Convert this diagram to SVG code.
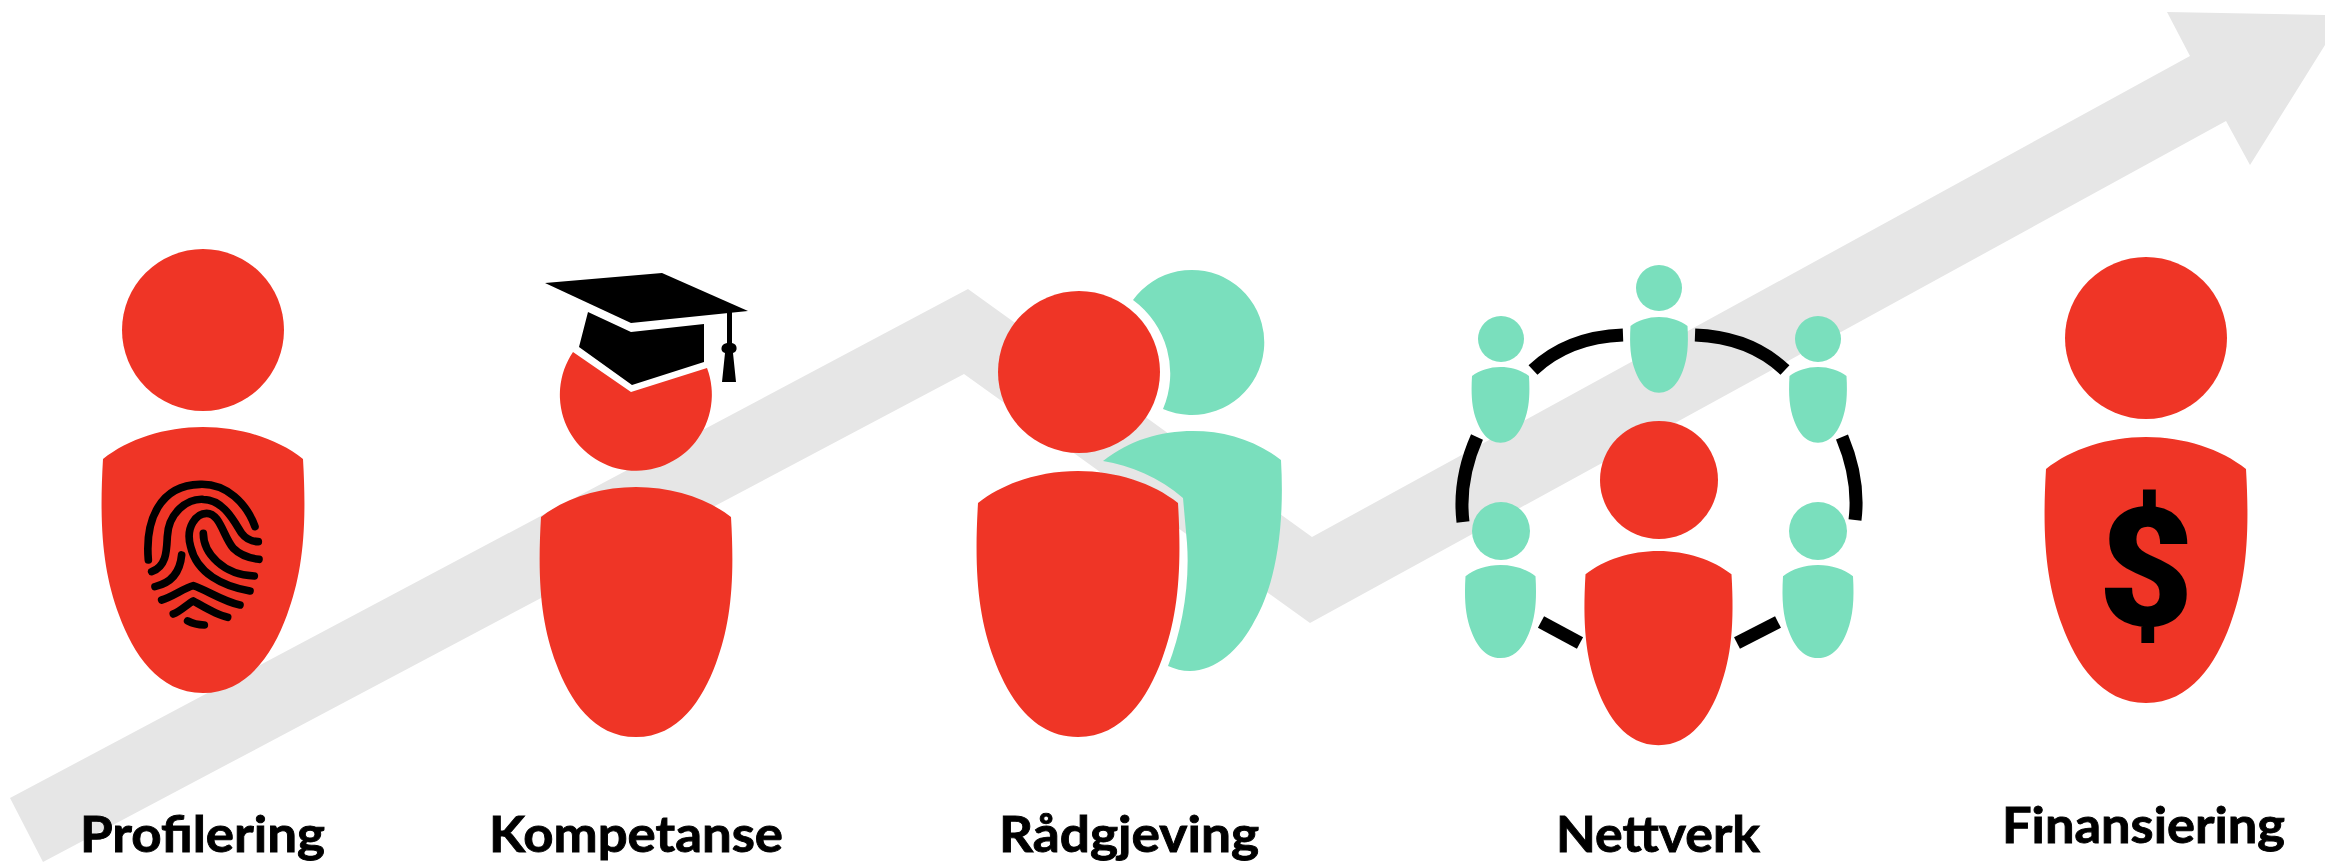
<svg xmlns="http://www.w3.org/2000/svg" width="2325" height="864" viewBox="0 0 2325 864">
<style>
.r{fill:#EF3526}.t{fill:#7ADFBD}.k{fill:#000}
.ring{fill:none;stroke:#000;stroke-width:13}
.fp{fill:none;stroke:#000;stroke-width:23;stroke-linecap:round;stroke-linejoin:round}
.l{font-family:Lato,"Liberation Sans",Arial,sans-serif;font-weight:700;font-size:50px;fill:#000;stroke:#000;stroke-width:.9}
</style>
<defs>
<path id="body" d="M-100 32C-75 12 -38 0 0 0C38 0 75 12 100 32C104 100 100 145 84 188C70 226 45 266 0 266C-45 266 -70 226 -84 188C-100 145 -104 100 -100 32Z"/>
</defs>
<rect width="2325" height="864" fill="#fff"/>
<g id="connectors">
<path id="growth-arrow" fill="#E6E6E6" d="M10 798L968 289L1312 537L2190 56L2167 12L2325 15V45L2250 165L2226 121L1310 623L964 374L43 862Z"/>
</g>
<g id="profilering">
<circle class="r" cx="203" cy="330" r="81"/>
<use href="#body" class="r" transform="translate(203 427)"/>
<g transform="translate(60 220) scale(.3333)" class="fp">
<path d="M265 1020C255 900 300 795 420 793C500 790 560 850 585 920"/>
<path d="M275 1055C320 1040 320 990 322 950C325 880 380 835 430 838C490 840 520 900 545 940C560 960 575 965 595 965"/>
<path d="M285 1100C330 1090 360 1060 365 1005"/>
<path d="M570 1113C490 1100 410 1060 392 980C375 920 410 880 440 880C480 880 490 950 520 985C540 1005 570 1015 597 1018"/>
<path d="M430 940C430 1000 490 1065 583 1068"/>
<path d="M305 1140C340 1130 370 1105 400 1097C440 1110 490 1145 540 1155"/>
<path d="M340 1182C360 1175 385 1150 400 1143C430 1160 470 1185 503 1192"/>
<path d="M383 1203Q405 1215 433 1215"/>
</g>
<text class="l" x="80" y="852" textLength="245" lengthAdjust="spacingAndGlyphs">Profilering</text>
</g>
<g id="kompetanse">
<path class="r" d="M573 352L631 392L707 368A76 76 0 1 1 573 352Z"/>
<use href="#body" class="r" transform="translate(636 487) scale(.95 .94)"/>
<path class="k" d="M545 283L662 273L748 311L631 323Z"/>
<path class="k" d="M588 312L631 332L704 324V362L632 385L579 347Z"/>
<path class="k" d="M727 311H732V343C738 344 738 352 733 353L736 382H722L725 353C720 352 720 344 727 343Z"/>
<text class="l" x="489" y="852" textLength="294" lengthAdjust="spacingAndGlyphs">Kompetanse</text>
</g>
<g id="radgjeving">
<path class="t" d="M1133 300A72.5 72.5 0 1 1 1163 409A91 91 0 0 0 1133 300Z"/>
<path class="t" d="M1103 461C1130 440 1160 431 1193 431C1225 431 1255 440 1281 460C1285 530 1275 585 1255 620C1240 650 1215 671 1190 671C1182 671 1175 669 1168 666C1182 630 1190 585 1187 543L1183 498C1160 478 1130 465 1103 461Z"/>
<circle class="r" cx="1079" cy="372" r="81"/>
<use href="#body" class="r" transform="translate(1078 471)"/>
<text class="l" x="999" y="852" textLength="260" lengthAdjust="spacingAndGlyphs">Rådgjeving</text>
</g>
<g id="nettverk">
<path class="ring" d="M1533 370Q1568 337 1623 335"/>
<path class="ring" d="M1695 335Q1750 337 1785 370"/>
<path class="ring" d="M1477 437Q1458 480 1463 522"/>
<path class="ring" d="M1842 437Q1860 480 1855 520"/>
<path class="ring" d="M1541 622L1580 643"/>
<path class="ring" d="M1778 622L1737 643"/>
<circle class="t" cx="1659" cy="288" r="23"/>
<use href="#body" class="t" transform="translate(1659 317) scale(.285)"/>
<circle class="t" cx="1501" cy="339" r="23"/>
<use href="#body" class="t" transform="translate(1500.5 367) scale(.285)"/>
<circle class="t" cx="1818" cy="339" r="23"/>
<use href="#body" class="t" transform="translate(1818 367) scale(.285)"/>
<circle class="t" cx="1501" cy="531" r="29"/>
<use href="#body" class="t" transform="translate(1500.5 565) scale(.35)"/>
<circle class="t" cx="1818" cy="531" r="29"/>
<use href="#body" class="t" transform="translate(1818 565) scale(.35)"/>
<circle class="r" cx="1659" cy="480" r="59"/>
<use href="#body" class="r" transform="translate(1658.500 551) scale(.73)"/>
<text class="l" x="1556" y="852" textLength="204" lengthAdjust="spacingAndGlyphs">Nettverk</text>
</g>
<g id="finansiering">
<circle class="r" cx="2146" cy="338" r="81"/>
<use href="#body" class="r" transform="translate(2146 437)"/>
<text x="2146" y="625" text-anchor="middle" font-family="Roboto, Liberation Sans, Arial, sans-serif" font-weight="900" font-size="165" fill="#000">$</text>
<text class="l" x="2002" y="843" textLength="283" lengthAdjust="spacingAndGlyphs">Finansiering</text>
</g>
</svg>
